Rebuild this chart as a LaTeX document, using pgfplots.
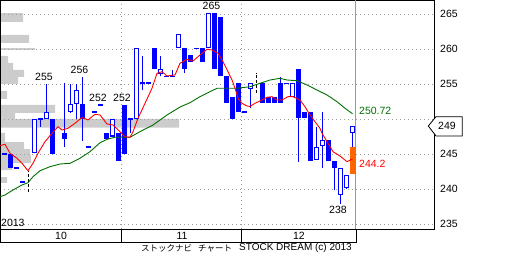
\documentclass[border=0pt]{standalone}
\usepackage{pgfplots}
\pgfplotsset{compat=1.18}
\usepackage{pgfplotstable}
\usepackage{fontspec}
\setmainfont{Liberation Sans}
\newfontfamily\cjk{Noto Sans CJK JP}
\definecolor{cblue}{RGB}{0,0,255}
\definecolor{mared}{RGB}{255,0,0}
\definecolor{magreen}{RGB}{0,110,0}
\definecolor{barorange}{RGB}{255,102,0}
\definecolor{histgray}{RGB}{204,204,204}
\newcommand{\lbl}{\fontsize{10.5}{12}\selectfont}

% daily candles: index, open, high, low, close
\pgfplotstableread{
i o h l c
0 245 245 245 245
1 245 245 243 243
2 243 243 243 243
3 241 241 241 241
5 245.1 250 245.1 250
6 250 250 248.9 250
7 250 255 250 251
8 250 250 245 245
10 248 255.1 246 247.1
11 251 255 250.9 252.1
12 252.2 255 250 254.1
13 252.1 256 246.9 250
14 246 246 246 246
15 251 251 251 251
16 252 252 252 252
17 248 248 247.1 247.1
18 247.5 250 247.5 250
19 248 248 244 244
20 252 252 245 245
21 250 250 248 250
22 250 260.1 250 260.1
23 255.2 259 254.1 255.2
24 255.2 255.2 255.2 255.2
25 260.1 260.1 257.1 257.1
26 256.4 259 256.1 257.1
27 256.1 256.1 256.1 256.1
28 256.1 257 256.1 256.1
29 260.1 262.1 260.1 262.1
30 260.1 260.1 256.5 257.1
31 259.1 259.1 258.1 258.1
32 260.1 260.1 260.1 260.1
33 260.1 260.1 258.1 258.1
34 260.1 265.2 260.1 265.2
35 265.2 265.2 257.1 257.1
36 264.5 264.5 256.1 256.1
37 256.1 256.1 252.3 252.3
38 253.1 253.1 250 250
39 255.1 255.1 251 251
40 251 251 251 251
41 254.3 255.1 251.5 255.1
43 255.1 255.1 252.3 252.3
44 253.1 253.1 252.3 252.3
45 253.1 253.1 252.3 252.3
46 255.1 256 252.3 252.3
47 255.1 255.1 255.1 255.1
48 253.1 255.1 253.1 255.1
49 257.1 257.1 243.9 250.1
50 251 251 250.1 250.1
51 251 251 244 244
52 244.1 248.9 244.1 246
53 246.1 251 243 247
54 247 247 244 244
55 244 244 239.9 243
56 239.1 243 237.9 243
57 240.1 242 240 242
58 248 249 246 249
}\ohlc

\pgfplotstableread{
i v
-0.75 246.19
0.08 246.39
0.92 245.1
2.08 244.39
2.92 243.67
3.92 242.61
4.75 243.67
5.58 245.1
6.75 246.76
7.92 247.96
8.92 248.9
9.58 248.43
10.58 248.67
11.75 249.39
12.92 250.24
13.92 249.86
15.08 250.67
15.92 250.57
17.08 249.29
18.08 249.14
19.25 248.19
20.08 247.47
20.92 247.39
21.42 248.19
22.25 250.1
23.42 252.24
24.58 254.39
25.42 256.53
26.25 256.76
27.08 256.14
28.42 256.29
29.25 257.96
30.42 258.53
31.42 258.29
32.58 259.14
33.75 259.96
34.58 259.86
35.58 259.39
36.42 258.19
37.25 256.76
37.92 255.57
38.42 254.39
38.92 252.96
39.58 252.24
40.42 251.86
40.92 251.79
41.75 252.24
42.92 252.71
43.75 253.1
44.58 253.19
45.42 252.71
46.25 252.71
47.25 253.19
48.08 253.19
49.25 252.71
50.08 251.76
50.92 250.57
51.75 249.61
52.58 248.67
52.92 247.96
53.92 246.53
54.75 245.33
55.92 244.71
57.08 243.9
58 244.3
}\redma

\pgfplotstableread{
i v
-0.75 238.9
0.08 239.14
1.42 239.86
2.92 240.57
3.92 240.9
4.75 241.76
5.92 242.61
7.58 243.19
9.25 243.57
10.92 243.67
12.58 244.39
14.25 245.33
15.92 246.61
17.08 247.1
18.42 247.39
19.58 247.39
20.92 247.39
22.58 248.19
24.75 249.14
27.08 250.57
29.25 251.71
30.92 252.33
32.58 253.19
34.25 253.9
35.42 254.39
37.08 254.39
38.75 254.39
40.92 254.61
42.58 255.1
44.25 255.57
45.92 255.81
47.08 255.57
48.75 255.47
50.42 254.86
52.08 254.14
53.75 253.43
55.42 252.47
56.75 251.53
58 250.75
}\greenma

% price-volume profile: bar length (px of plot width), lower price bound
\pgfplotstableread{
len v
7 240.86
0 241.71
12 242.71
31 243.71
30 244.86
24 245.71
5 246.71
0 248.0
179 248.76
15 250.0
55 250.86
0 252.0
7 252.86
0 254.0
18 255.0
24 256.0
13 257.0
8 258.0
0 259.0
35 259.86
0 260.14
29 260.86
0 262.0
23 263.86
0 265.14
}\hist

\begin{document}
\begin{tikzpicture}
\useasboundingbox (0,0) rectangle (512pt,256pt);

\begin{axis}[at={(0pt,27pt)}, anchor=south west,
    width=434pt, height=229pt, scale only axis,
    xmin=0, xmax=434, ymin=234.286, ymax=267, hide axis]
  \addplot[xbar interval, fill=histgray, draw=none] table[x=len, y=v] {\hist};
\end{axis}

\begin{axis}[at={(0pt,27pt)}, anchor=south west,
    width=434pt, height=229pt, scale only axis,
    xmin=-0.75, xmax=71.583, ymin=234.286, ymax=267,
    axis line style={line width=0.8pt, black},
    ytick={235,240,...,265}, yticklabels={235,240,245,,255,260,265},
    yticklabel pos=right,
    xtick={19.5,39.5}, xticklabels={},
    major tick length=0pt,
    xmajorgrids, ymajorgrids,
    grid style={gray!75, line width=0.7pt, dash pattern=on 1pt off 3pt},
    yticklabel style={anchor=west, xshift=6pt, inner sep=0pt, font=\lbl},
    /pgf/number format/assume math mode=true,
    clip=false]

  % now line
  \addplot[gray!80, line width=1pt] coordinates {(58.58,234.286) (58.58,267)};

  % wicks
  \addplot[draw=none, mark=none,
    error bars/.cd, y dir=plus, y explicit, error mark=none,
    error bar style={draw=cblue, line width=1pt}]
    table[x=i, y=l, y error expr=\thisrow{h}-\thisrow{l}] {\ohlc};
  % falling bodies and dashes
  \addplot[draw=none, mark=none,
    restrict expr to domain={\thisrow{c}-\thisrow{o}}{-1000:0.0001},
    error bars/.cd, y dir=both, y explicit, error mark=none,
    error bar style={draw=cblue, line width=5pt}]
    table[x=i, y expr=(\thisrow{o}+\thisrow{c})/2,
      y error expr={max(abs(\thisrow{o}-\thisrow{c})/2,0.09)}] {\ohlc};
  % rising bodies: outline then white inside
  \addplot[draw=none, mark=none,
    restrict expr to domain={\thisrow{c}-\thisrow{o}}{0.001:1000},
    error bars/.cd, y dir=both, y explicit, error mark=none,
    error bar style={draw=cblue, line width=5pt}]
    table[x=i, y expr=(\thisrow{o}+\thisrow{c})/2,
      y error expr={abs(\thisrow{o}-\thisrow{c})/2}] {\ohlc};
  \addplot[draw=none, mark=none,
    restrict expr to domain={\thisrow{c}-\thisrow{o}}{0.001:1000},
    error bars/.cd, y dir=both, y explicit, error mark=none,
    error bar style={draw=white, line width=3pt}]
    table[x=i, y expr=(\thisrow{o}+\thisrow{c})/2,
      y error expr={abs(\thisrow{o}-\thisrow{c})/2-0.143}] {\ohlc};

  % black dashed marks
  \addplot[black, line width=0.8pt, dash pattern=on 3pt off 2pt] coordinates {(4,239.6) (4,242.6)};
  \addplot[black, line width=0.8pt, dash pattern=on 3pt off 2pt] coordinates {(42,253.7) (42,256.6)};

  % orange range box
  \addplot[draw=none, mark=none,
    error bars/.cd, y dir=both, y explicit, error mark=none,
    error bar style={draw=barorange, line width=6pt}]
    coordinates {(58.08,244.05) +- (0,1.95)};

  % moving averages
  \addplot[magreen, line width=0.9pt] table[x=i, y=v] {\greenma};
  \addplot[mared, line width=0.9pt] table[x=i, y=v] {\redma};

  % price notes
  \node[font=\lbl] at (axis cs:6.58,256) {255};
  \node[font=\lbl] at (axis cs:12.5,257) {256};
  \node[font=\lbl] at (axis cs:15.58,253) {252};
  \node[font=\lbl] at (axis cs:19.58,253) {252};
  \node[font=\lbl] at (axis cs:34.5,266.14) {265};
  \node[font=\lbl] at (axis cs:55.58,237.07) {238};
  \node[font=\lbl, anchor=west, inner sep=0pt] at (axis cs:-0.58,235.14) {2013};
  \node[font=\lbl, anchor=west, inner sep=0pt, text=magreen] at (axis cs:59.08,251.14) {250.72};
  \node[font=\lbl, anchor=west, inner sep=0pt, text=mared] at (axis cs:59.08,243.64) {244.2};

  % last price flag
  \draw[fill=white, line width=0.8pt] (axis cs:70.63,249) -- (axis cs:71.92,250.33)
    -- (axis cs:76.3,250.33) -- (axis cs:76.3,247.57) -- (axis cs:71.92,247.57) -- cycle;
  \node[font=\lbl, anchor=west, inner sep=0pt] at (axis cs:72.25,249) {249};

  % month bar
  \draw[line width=0.8pt] (axis cs:-0.75,234.286) -- (axis cs:-0.75,232.43)
    -- (axis cs:58.58,232.43) -- (axis cs:58.58,234.286);
  \draw[line width=0.8pt] (axis cs:19.5,234.286) -- (axis cs:19.5,232.43);
  \draw[line width=0.8pt] (axis cs:39.5,234.286) -- (axis cs:39.5,232.43);
  \node[font=\lbl] at (axis cs:9.42,233.33) {10};
  \node[font=\lbl] at (axis cs:29.58,233.33) {11};
  \node[font=\lbl] at (axis cs:49.08,233.33) {12};

  % footer
  \node[anchor=west, inner sep=0pt] at (axis cs:22.75,231.57)
    {\cjk\fontsize{8.5}{10}\selectfont ストックナビ\hspace{6pt}チャート};
  \node[anchor=west, inner sep=0pt, font=\fontsize{10}{12}\selectfont] at (axis cs:39.08,231.57)
    {STOCK DREAM (c) 2013};
\end{axis}
\end{tikzpicture}
\end{document}
